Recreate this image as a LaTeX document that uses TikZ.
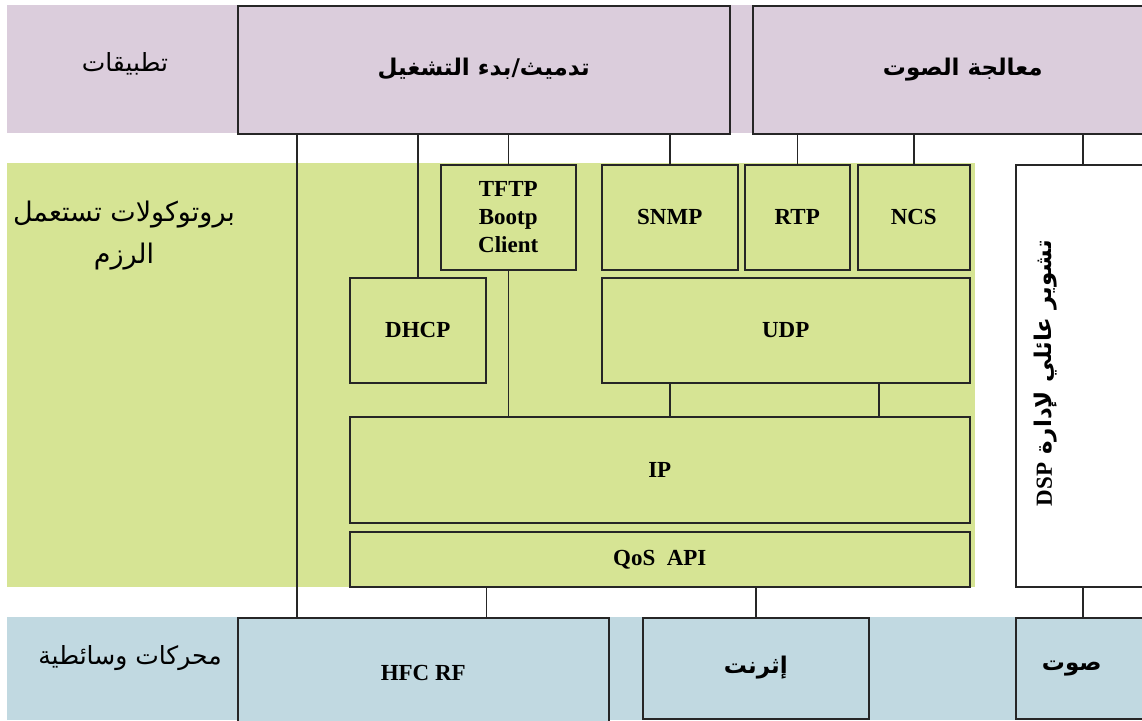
\documentclass[tikz,border=0pt]{standalone}
\usepackage{fontspec}
\setmainfont{Liberation Serif}
\newfontfamily\arabicfont[Script=Arabic]{DejaVu Sans}
\TeXXeTstate=1
\usepackage{xcolor}
\usepackage{tikz}
\definecolor{appcol}{RGB}{219,205,220}
\definecolor{protocol}{RGB}{214,228,148}
\definecolor{mediacol}{RGB}{193,217,225}
\tikzstyle{band} = [rectangle, draw=none, inner sep=0pt, anchor=north west]
\tikzstyle{layer} = [rectangle, anchor=north west, inner sep=0pt, draw=black!85, line width=1.5pt, align=center, font=\fontsize{23}{28}\selectfont\bfseries]
\tikzstyle{arlayer} = [layer, font=\fontsize{23}{28}\selectfont\arabicfont\bfseries]
\tikzstyle{sidetext} = [align=center, font=\fontsize{25}{42}\selectfont\arabicfont]
\tikzstyle{line} = [line width=1.5pt, draw=black!85]

\begin{document}
\begin{tikzpicture}[x=1pt, y=-1pt]
\useasboundingbox (0,0) rectangle (1142,720);
\clip (0,0) rectangle (1142,720);

% bands
\node(appband) [band, fill=appcol, minimum width=1135pt, minimum height=128pt] at (7,5) {};
\node(protoband) [band, fill=protocol, minimum width=968pt, minimum height=424pt] at (7,163) {};
\node(mediaband) [band, fill=mediacol, minimum width=1135pt, minimum height=103pt] at (7,617) {};

\node(apps) [sidetext] at (125,64) {\beginR تطبيقات\endR};
\node(packets) [sidetext, font=\fontsize{27}{42}\selectfont\arabicfont] at (124,236) {\beginR بروتوكولات تستعمل\endR\\\beginR الرزم\endR};
\node(drivers) [sidetext] at (130,658) {\beginR محركات وسائطية\endR};

% applications
\node(boot) [arlayer, fill=appcol, minimum width=492pt, minimum height=128pt] at (237,5) {\raisebox{5pt}{\beginR تدميث/بدء التشغيل\endR}};
\node(voiceproc) [arlayer, fill=appcol, minimum width=420pt, minimum height=128pt] at (752,5) {\raisebox{5pt}{\beginR معالجة الصوت\endR}};

% protocols
\node(tftp) [layer, fill=protocol, minimum width=135pt, minimum height=105pt] at (440,164) {TFTP\\Bootp\\Client};
\node(snmp) [layer, fill=protocol, minimum width=136pt, minimum height=105pt] at (601,164) {SNMP};
\node(rtp) [layer, fill=protocol, minimum width=105pt, minimum height=105pt] at (744,164) {RTP};
\node(ncs) [layer, fill=protocol, minimum width=112pt, minimum height=105pt] at (857,164) {NCS};
\node(dhcp) [layer, fill=protocol, minimum width=136pt, minimum height=105pt] at (349,277) {DHCP};
\node(udp) [layer, fill=protocol, minimum width=368pt, minimum height=105pt] at (601,277) {UDP};
\node(ip) [layer, fill=protocol, minimum width=620pt, minimum height=106pt] at (349,416) {IP};
\node(qos) [layer, fill=protocol, minimum width=620pt, minimum height=55pt] at (349,531) {QoS\ \ API};
\node(dsp) [layer, fill=white, minimum width=134pt, minimum height=422pt] at (1015,164) {};
\node(dsptext) [rotate=90, font=\fontsize{23}{28}\selectfont\arabicfont\bfseries] at (1046,373) {\beginR تشوير عائلي لإدارة \beginL\rmfamily\bfseries DSP\endL\endR};

% media
\node(hfc) [layer, fill=mediacol, minimum width=371pt, minimum height=110pt] at (237,617) {HFC RF};
\node(eth) [arlayer, fill=mediacol, minimum width=226pt, minimum height=101pt] at (642,617) {\raisebox{6pt}{\beginR إثرنت\endR}};
\node(voice) [arlayer, fill=mediacol, minimum width=134pt, minimum height=101pt] at (1015,617) {\hspace*{-22pt}\raisebox{6pt}{\beginR صوت\endR}};

\draw [line] (boot.south -| 297,0) -- (hfc.north -| 297,0);
\draw [line] (boot.south -| dhcp) -- (dhcp.north);
\draw [line] (boot.south -| tftp) -- (tftp.north);
\draw [line] (boot.south -| snmp) -- (snmp.north);
\draw [line] (voiceproc.south -| rtp) -- (rtp.north);
\draw [line] (voiceproc.south -| ncs) -- (ncs.north);
\draw [line] (voiceproc.south -| dsp) -- (dsp.north);
\draw [line] (tftp.south) -- (tftp.south |- ip.north);
\draw [line] (udp.south -| snmp) -- (ip.north -| snmp);
\draw [line] (udp.south -| 879,0) -- (ip.north -| 879,0);
\draw [line] (qos.south -| dhcp.east) -- (hfc.north -| dhcp.east);
\draw [line] (qos.south -| eth) -- (eth.north);
\draw [line] (dsp.south) -- (voice.north);

\end{tikzpicture}
\end{document}
